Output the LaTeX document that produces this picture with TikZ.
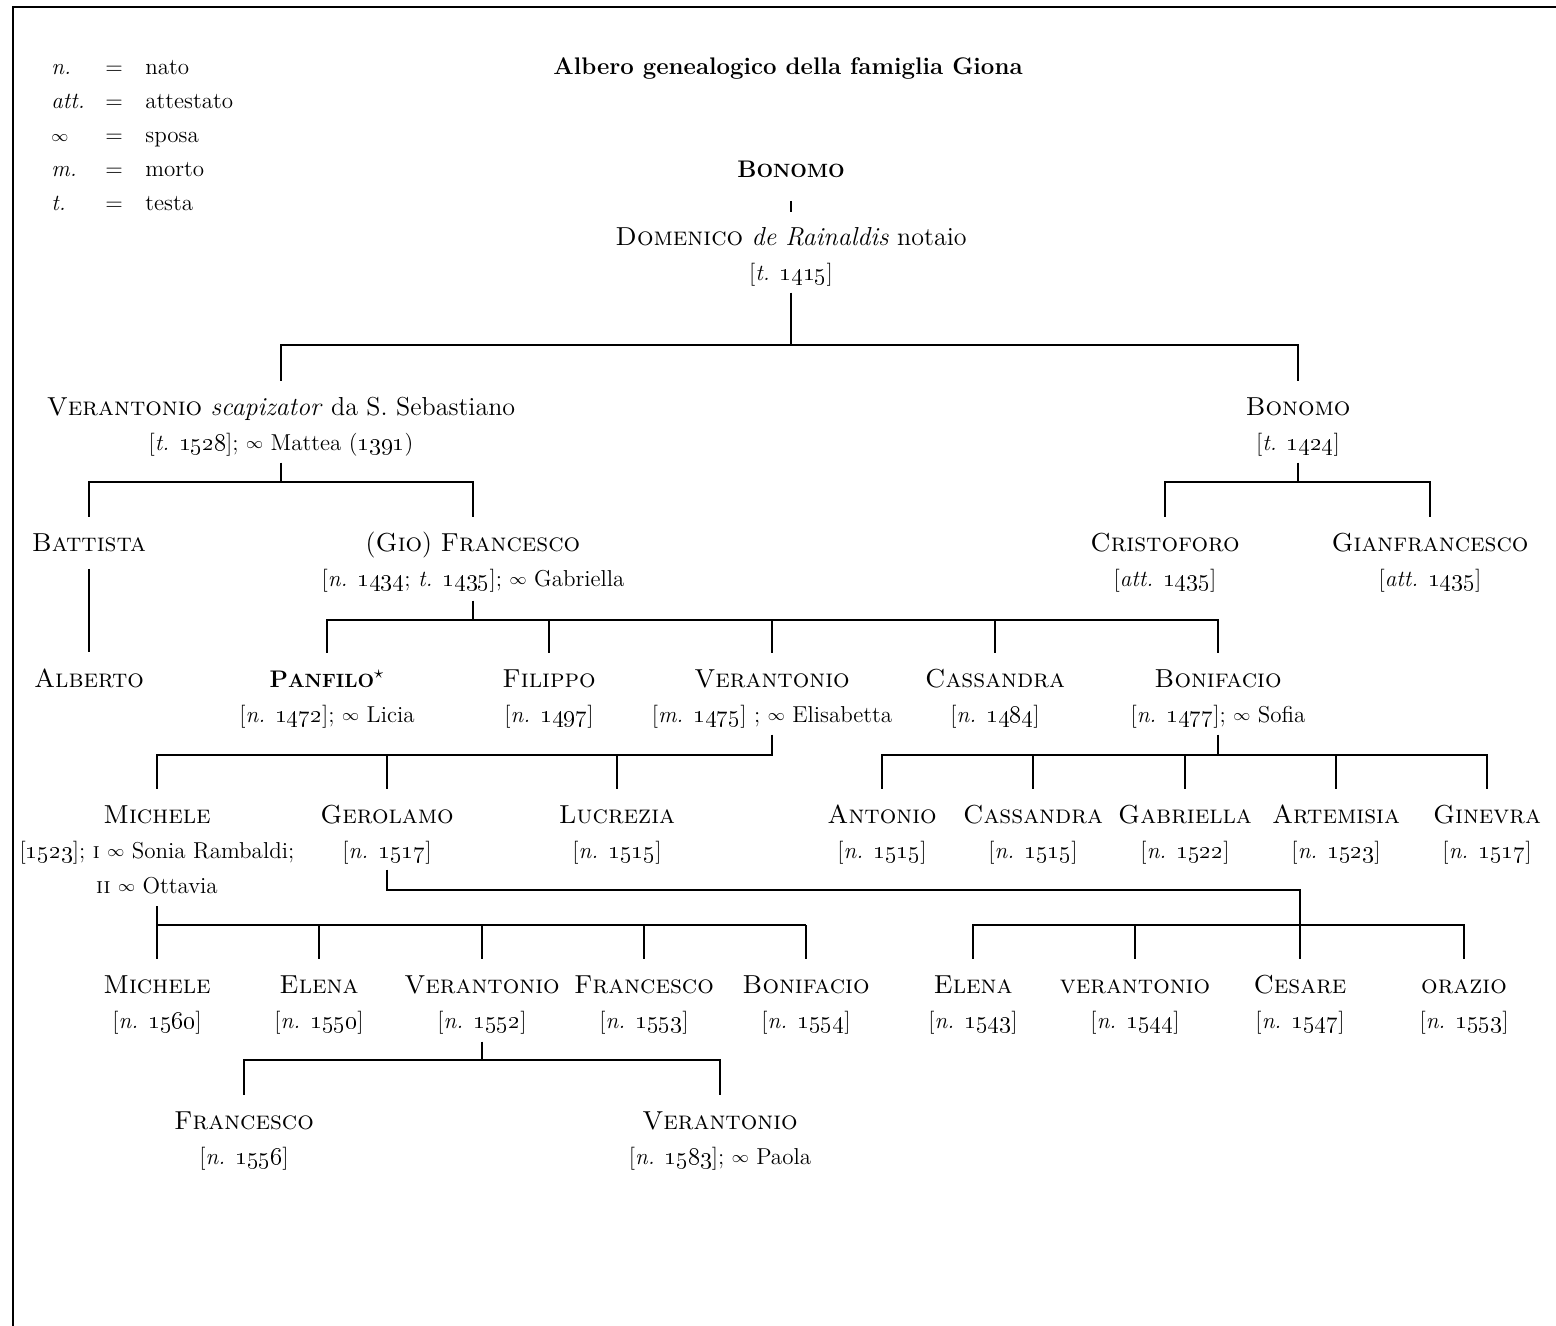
\documentclass[tikz,border=0pt]{standalone}
\newcommand\os[1]{\oldstylenums{#1}}
\newcommand\bsc[2]{\textbf{{\fontsize{12}{17.5}\selectfont #1}{\fontsize{9.6}{10}\selectfont #2}}}
\newcommand\spo{\raisebox{0.8pt}{\fontsize{8.5}{9}\selectfont$\infty$}}
\newcommand\dl[1]{{\fontsize{11.5}{17.5}\selectfont #1}}
\newcommand\ph{\vphantom{(}}
\begin{document}
\begin{tikzpicture}[x=0.5pt,y=-0.5pt,
  person/.style={anchor=north, inner sep=0pt, align=center, font=\fontsize{13}{17.5}\selectfont},
  leg/.style={anchor=base west, inner sep=0pt, font=\fontsize{11.5}{14}\selectfont},
  link/.style={line width=1.15pt},
  up/.style={shorten >=7.5pt},
  frame/.style={line width=1pt}]
\useasboundingbox (0,0) rectangle (1556,1326);
\draw[frame] (13,1326) -- (13,7) -- (1556,7);
% legend
\node[leg] (l1) at (51,75) {\textit{n.}};
\node[leg] (l2) at (51,109) {\textit{att.}};
\node[leg] (l3) at (51,143) {\spo};
\node[leg] (l4) at (51,177) {\textit{m.}};
\node[leg] (l5) at (51,211) {\textit{t.}};
\node[leg] (e1) at (105,75) {=};
\node[leg] (e2) at (105,109) {=};
\node[leg] (e3) at (105,143) {=};
\node[leg] (e4) at (105,177) {=};
\node[leg] (e5) at (105,211) {=};
\node[leg] (d1) at (145,75) {nato};
\node[leg] (d2) at (145,109) {attestato};
\node[leg] (d3) at (145,143) {sposa};
\node[leg] (d4) at (145,177) {morto};
\node[leg] (d5) at (145,211) {testa};
\node[anchor=base, inner sep=0pt, font=\fontsize{12}{14}\selectfont\bfseries] (title) at (788,75) {Albero genealogico della famiglia Giona};
% people
\node[person] (bon0) at (791,157.5) {\ph\bsc{B}{ONOMO}};
\node[person] (dom) at (791,225.5) {\ph\textsc{Domenico} \textit{de Rainaldis} notaio\\\dl{[\textit{t.} \os{1415}]}};
\node[person] (va) at (281,395.5) {\ph\textsc{Verantonio} \textit{scapizator} da S.~Sebastiano\\\dl{[\textit{t.} \os{1528}]; \spo{} Mattea (\os{1391})}};
\node[person] (bon1) at (1298,395.5) {\ph\textsc{Bonomo}\\\dl{[\textit{t.} \os{1424}]}};
\node[person] (bat) at (89,531.5) {\ph\textsc{Battista}};
\node[person] (gf) at (473,531.5) {\ph(\textsc{Gio}) \textsc{Francesco}\\\dl{[\textit{n.} \os{1434}; \textit{t.} \os{1435}]; \spo{} Gabriella}};
\node[person] (cri) at (1165,531.5) {\ph\textsc{Cristoforo}\\\dl{[\textit{att.} \os{1435}]}};
\node[person] (gia) at (1430,531.5) {\ph\textsc{Gianfrancesco}\\\dl{[\textit{att.} \os{1435}]}};
\node[person] (alb) at (89,667.5) {\ph\textsc{Alberto}};
\node[person] (pan) at (327,667.5) {\ph\bsc{P}{ANFILO}$^{\star}$\\\dl{[\textit{n.} \os{1472}]; \spo{} Licia}};
\node[person] (fil) at (549,667.5) {\ph\textsc{Filippo}\\\dl{[\textit{n.} \os{1497}]}};
\node[person] (ver2) at (772,667.5) {\ph\textsc{Verantonio}\\\dl{[\textit{m.} \os{1475}] ; \spo{} Elisabetta}};
\node[person] (cas) at (995,667.5) {\ph\textsc{Cassandra}\\\dl{[\textit{n.} \os{1484}]}};
\node[person] (bonif) at (1218,667.5) {\ph\textsc{Bonifacio}\\\dl{[\textit{n.} \os{1477}]; \spo{} Sofia}};
\node[person] (mic) at (157,803.5) {\ph\textsc{Michele}\\\dl{[\os{1523}]; \textsc{i} \spo{} Sonia Rambaldi;}\\\dl{\textsc{ii} \spo{} Ottavia}};
\node[person] (ger) at (387,803.5) {\ph\textsc{Gerolamo}\\\dl{[\textit{n.} \os{1517}]}};
\node[person] (luc) at (617,803.5) {\ph\textsc{Lucrezia}\\\dl{[\textit{n.} \os{1515}]}};
\node[person] (ant) at (882,803.5) {\ph\textsc{Antonio}\\\dl{[\textit{n.} \os{1515}]}};
\node[person] (cas2) at (1033,803.5) {\ph\textsc{Cassandra}\\\dl{[\textit{n.} \os{1515}]}};
\node[person] (gab) at (1185,803.5) {\ph\textsc{Gabriella}\\\dl{[\textit{n.} \os{1522}]}};
\node[person] (art) at (1336,803.5) {\ph\textsc{Artemisia}\\\dl{[\textit{n.} \os{1523}]}};
\node[person] (gin) at (1487,803.5) {\ph\textsc{Ginevra}\\\dl{[\textit{n.} \os{1517}]}};
\node[person] (mic2) at (157,973.5) {\ph\textsc{Michele}\\\dl{[\textit{n.} \os{1560}]}};
\node[person] (ele) at (319,973.5) {\ph\textsc{Elena}\\\dl{[\textit{n.} \os{1550}]}};
\node[person] (ver3) at (482,973.5) {\ph\textsc{Verantonio}\\\dl{[\textit{n.} \os{1552}]}};
\node[person] (fra) at (644,973.5) {\ph\textsc{Francesco}\\\dl{[\textit{n.} \os{1553}]}};
\node[person] (bonif2) at (806,973.5) {\ph\textsc{Bonifacio}\\\dl{[\textit{n.} \os{1554}]}};
\node[person] (ele2) at (973,973.5) {\ph\textsc{Elena}\\\dl{[\textit{n.} \os{1543}]}};
\node[person] (ver4) at (1135,973.5) {\ph\textsc{verantonio}\\\dl{[\textit{n.} \os{1544}]}};
\node[person] (ces) at (1300,973.5) {\ph\textsc{Cesare}\\\dl{[\textit{n.} \os{1547}]}};
\node[person] (ora) at (1464,973.5) {\ph\textsc{orazio}\\\dl{[\textit{n.} \os{1553}]}};
\node[person] (fra2) at (244,1109.5) {\ph\textsc{Francesco}\\\dl{[\textit{n.} \os{1556}]}};
\node[person] (ver5) at (720,1109.5) {\ph\textsc{Verantonio}\\\dl{[\textit{n.} \os{1583}]; \spo{} Paola}};
% bar levels
\coordinate (bA) at (0,345);
\coordinate (bB) at (0,482);
\coordinate (bC) at (0,620);
\coordinate (bD) at (0,755);
\coordinate (bE) at (0,925);
\coordinate (bG) at (0,890);
\coordinate (bF) at (0,1060);
% connectors
\draw[link, shorten <=8.25pt, shorten >=6.75pt] (bon0.south) -- (dom.north);
\draw[link, shorten <=3pt] (dom.south) -- (dom.south |- bA);
\draw[link, shorten <=7.5pt, shorten >=7.5pt] (va.north) -- (va.north |- bA) -- (bon1.north |- bA) -- (bon1.north);
% Verantonio family
\draw[link, shorten <=3pt] (va.south) -- (va.south |- bB);
\draw[link, shorten <=7.5pt, shorten >=7.5pt] (bat.north) -- (bat.north |- bB) -- (gf.north |- bB) -- (gf.north);
% Bonomo family
\draw[link, shorten <=3pt] (bon1.south) -- (bon1.south |- bB);
\draw[link, shorten <=7.5pt, shorten >=7.5pt] (cri.north) -- (cri.north |- bB) -- (gia.north |- bB) -- (gia.north);
% Battista -> Alberto
\draw[link, shorten <=5.25pt, shorten >=7.75pt] (bat.south) -- (alb.north);
% Francesco family
\draw[link, shorten <=4pt] (gf.south) -- (gf.south |- bC);
\draw[link, shorten <=7.5pt, shorten >=7.5pt] (pan.north) -- (pan.north |- bC) -- (bonif.north |- bC) -- (bonif.north);
\draw[link, up] (fil.north |- bC) -- (fil.north);
\draw[link, up] (ver2.north |- bC) -- (ver2.north);
\draw[link, up] (cas.north |- bC) -- (cas.north);
% Verantonio (m. 1475) family
\draw[link, shorten <=3pt, shorten >=7.5pt] (ver2.south) -- (ver2.south |- bD) -- (mic.north |- bD) -- (mic.north);
\draw[link, up] (ger.north |- bD) -- (ger.north);
\draw[link, up] (luc.north |- bD) -- (luc.north);
% Bonifacio family
\draw[link, shorten <=3pt] (bonif.south) -- (bonif.south |- bD);
\draw[link, shorten <=7.5pt, shorten >=7.5pt] (ant.north) -- (ant.north |- bD) -- (gin.north |- bD) -- (gin.north);
\draw[link, up] (cas2.north |- bD) -- (cas2.north);
\draw[link, up] (gab.north |- bD) -- (gab.north);
\draw[link, up] (art.north |- bD) -- (art.north);
% Michele family
\draw[link, shorten <=6pt] (mic.south) -- (mic.south |- bE) -- (bonif2.north |- bE);
\draw[link, up] (mic2.north |- bE) -- (mic2.north);
\draw[link, up] (ele.north |- bE) -- (ele.north);
\draw[link, up] (ver3.north |- bE) -- (ver3.north);
\draw[link, up] (fra.north |- bE) -- (fra.north);
\draw[link, up] (bonif2.north |- bE) -- (bonif2.north);
% Gerolamo family
\draw[link, shorten <=2.5pt, shorten >=7.5pt] (ger.south) -- (ger.south |- bG) -- (ces.north |- bG) -- (ces.north);
\draw[link, shorten <=7.5pt, shorten >=7.5pt] (ele2.north) -- (ele2.north |- bE) -- (ora.north |- bE) -- (ora.north);
\draw[link, up] (ver4.north |- bE) -- (ver4.north);
% Verantonio (n. 1552) family
\draw[link, shorten <=3.5pt] (ver3.south) -- (ver3.south |- bF);
\draw[link, shorten <=7.5pt, shorten >=7.5pt] (fra2.north) -- (fra2.north |- bF) -- (ver5.north |- bF) -- (ver5.north);
\end{tikzpicture}
\end{document}
